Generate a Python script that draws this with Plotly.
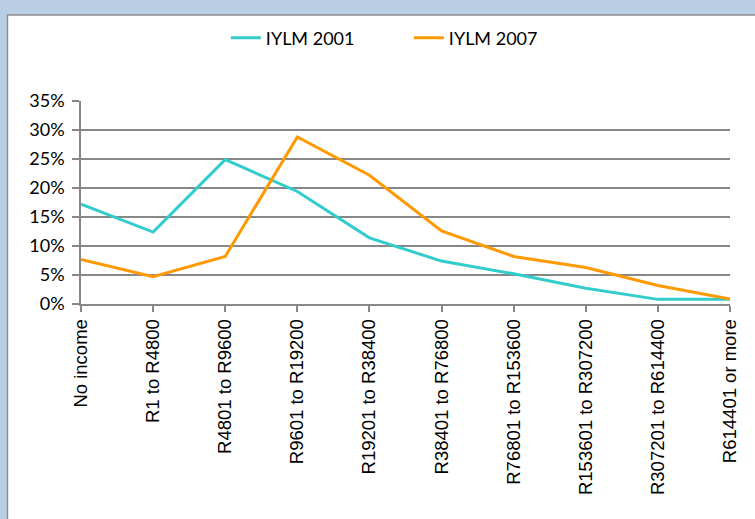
import plotly.graph_objects as go

# income bands (annual, Rand)
categories = [
    "No income", "R1 to R4800", "R4801 to R9600", "R9601 to R19200",
    "R19201 to R38400", "R38401 to R76800", "R76801 to R153600",
    "R153601 to R307200", "R307201 to R614400", "R614401 or more",
]
# share of individuals, %
iylm_2001 = [17.2, 12.4, 24.9, 19.4, 11.4, 7.4, 5.2, 2.7, 0.8, 0.8]
iylm_2007 = [7.7, 4.7, 8.2, 28.8, 22.2, 12.6, 8.2, 6.3, 3.2, 0.85]

y_ticks = [0, 5, 10, 15, 20, 25, 30, 35]
y_labels = [f"{v}%" for v in y_ticks]

TEAL = "#33CCCC"
ORANGE = "#FF9900"
GRID = "#878787"
BODY = "Lato, 'Open Sans', sans-serif"
AXIS_FONT = "'Liberation Sans', Arial, sans-serif"

fig = go.Figure()
fig.add_trace(go.Scatter(x=categories, y=iylm_2001, name="IYLM 2001",
                         mode="lines", line=dict(color=TEAL, width=3)))
fig.add_trace(go.Scatter(x=categories, y=iylm_2007, name="IYLM 2007",
                         mode="lines", line=dict(color=ORANGE, width=3)))

# white chart frame over the blue-grey window background
fig.add_shape(type="rect", xref="paper", yref="paper",
              x0=-0.1133, x1=1.05, y0=-1.1, y1=1.4236,
              fillcolor="white", line=dict(color="#8E8E8E", width=1.5),
              layer="below")

fig.update_layout(
    width=755, height=519,
    margin=dict(l=81, r=25, t=101, b=215, autoexpand=False),
    paper_bgcolor="#B9CDE5",
    plot_bgcolor="white",
    font=dict(family=BODY, color="#000000", size=17),
    showlegend=True,
    legend=dict(orientation="h", x=0.2232, xanchor="left", y=1.31,
                yanchor="middle", bgcolor="rgba(0,0,0,0)",
                font=dict(family=BODY, size=18), entrywidth=138,
                entrywidthmode="pixels"),
    hovermode=False,
    xaxis=dict(
        type="category", tickangle=-90, showgrid=False, automargin=False,
        showline=True, linecolor=GRID, linewidth=1.5,
        ticks="outside", ticklen=6, tickcolor=GRID, tickwidth=1.5,
        tickfont=dict(family=AXIS_FONT, size=18.5),
        range=[0, len(categories) - 1],
    ),
    yaxis=dict(
        range=[0, 35], tickvals=y_ticks, ticktext=y_labels, automargin=False,
        showgrid=True, gridcolor=GRID, gridwidth=1.5,
        showline=True, linecolor=GRID, linewidth=1.5,
        ticks="outside", ticklen=7, tickcolor=GRID, tickwidth=1.5,
        ticklabelstandoff=4,
        tickfont=dict(family=BODY, size=18),
        zeroline=False,
    ),
)

fig.write_html("out.html", config={"displayModeBar": False},
               post_script="document.body.style.margin='0';")
